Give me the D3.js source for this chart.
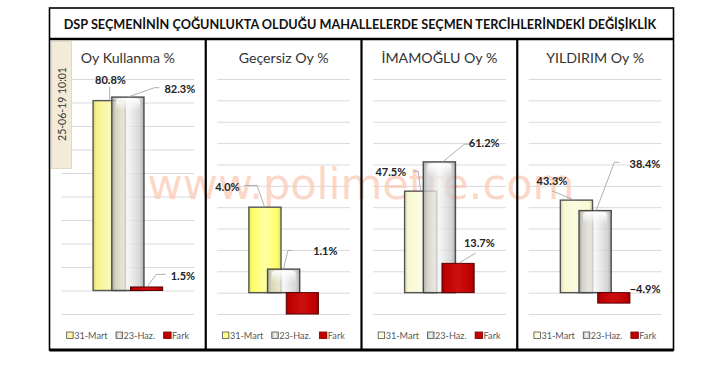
<!DOCTYPE html>
<html><head><meta charset="utf-8">
<script src="https://cdn.jsdelivr.net/npm/d3@7"></script>
<style>html,body{margin:0;padding:0;background:#fff;} svg{display:block}</style>
</head><body><svg id="c" width="709" height="365"></svg>
<script>
// ---------- DATA ----------
const chartTitle = "DSP SEÇMENİNİN ÇOĞUNLUKTA OLDUĞU MAHALLELERDE SEÇMEN TERCİHLERİNDEKİ DEĞİŞİKLİK";
const stampText = "25-06-19 10:01";
const watermarkText = "www.polimetre.com";
const categories = ["31-Mart", "23-Haz.", "Fark"];
const panelTitles = ["Oy Kullanma %", "Geçersiz Oy %", "İMAMOĞLU Oy %", "YILDIRIM Oy %"];
const oyKullanma = [80.8, 82.3, 1.5];
const gecersizOy = [4.0, 1.1, -2.9];
const imamogluOy = [47.5, 61.2, 13.7];
const yildirimOy = [43.3, 38.4, -4.9];
const axisMin = [-10, -1, -10, -10];
const axisMax = [90, 10, 100, 100];
const axisStep = [10, 1, 10, 10];
const labelShown = [[true, true, true], [true, true, false], [true, true, true], [true, true, true]];

// ---------- LAYOUT / STYLE ----------
const seriesValues = [oyKullanma, gecersizOy, imamogluOy, yildirimOy];
const frame = {x0: 50, x1: 673, y0: 8, y1: 350, titleBottom: 39};
const panelW = (frame.x1 - frame.x0) / 4;
const yRange = [314, 79];
const yellowBase = ["#f8f48c", "#ffff66", "#f9f8d0", "#f9f8d0"];
// label offsets relative to bar anchor (bar centre, bar top): [dx, dy], leader points
const labelLayout = [
  [{l:[1.3,-21], lead:[[0.5,0],[0.5,-14]]},
   {l:[52,-7.7], lead:[[0,0],[26.5,-9.4],[31.5,-9.4]]},
   {l:[36.3,-11.3], lead:[[1,-0.6],[9.7,-12.6],[19,-12.6]]}],
  [{l:[-37.5,-20], lead:[[-0.5,-0.7],[-7.9,-21.7],[-20.5,-21.7]]},
   {l:[41.7,-18], lead:[[0,-0.7],[4.3,-18.7],[8.3,-18.7]]},
   null],
  [{l:[-29.9,-19], lead:[[0,0],[-2.4,-20],[-7.7,-20]]},
   {l:[44.8,-18.7], lead:[[3.3,0],[25,-17.7],[31.7,-17.7]]},
   {l:[21.3,-20.2], lead:[[0.8,-0.2],[17.5,-10.2]]}],
  [{l:[-24.5,-19.3], lead:[[-1.7,0],[-24.4,-9.3]]},
   {l:[49.8,-46.7], lead:[[1,0],[19.3,-48.3],[24.3,-48.3]]},
   {l:[31.3,-3.3], lead:null}]
];

const svg = d3.select("#c");
const defs = svg.append("defs");

function hGrad(id, edge, mid, light) {
  const g = defs.append("linearGradient").attr("id", id).attr("x1", 0).attr("x2", 1).attr("y1", 0).attr("y2", 0);
  [[0, edge], [0.12, mid], [0.5, light], [0.88, mid], [1, edge]].forEach(([o, c]) =>
    g.append("stop").attr("offset", o).attr("stop-color", c));
}
yellowBase.forEach((c, i) => {
  const base = d3.color(c);
  hGrad("yel" + i, base.darker(0.35).formatHex(), c, d3.interpolateRgb(c, "#ffffff")(0.4));
});
hGrad("gray", "#979797", "#cacaca", "#f4f4f4");
hGrad("red", "#9a0000", "#c00000", "#cc1010");
const hl = defs.append("linearGradient").attr("id", "hl").attr("x1", 0).attr("x2", 0).attr("y1", 0).attr("y2", 1);
hl.append("stop").attr("offset", 0).attr("stop-color", "#fff").attr("stop-opacity", 0.95);
hl.append("stop").attr("offset", 1).attr("stop-color", "#fff").attr("stop-opacity", 0);

const font = "Lato, 'Open Sans', sans-serif";

// background
svg.append("rect").attr("width", 709).attr("height", 365).attr("fill", "#fff");

const panels = svg.append("g");
const wmLayer = svg.append("g");
const barLayer = svg.append("g");

seriesValues.forEach((vals, i) => {
  const px0 = frame.x0 + i * panelW;
  const plotL = px0 + 11.5, plotR = px0 + panelW - 11.5;
  const cx = (plotL + plotR) / 2;
  const y = d3.scaleLinear().domain([axisMin[i], axisMax[i]]).range(yRange).clamp(true);
  const x = d3.scaleBand().domain(categories).range([plotL, plotR]).paddingInner(0).paddingOuter(2.05);
  const bw = x.bandwidth() * 1.72;
  const g = panels.append("g");

  // gridlines via axis
  const ticks = d3.range(axisMin[i], axisMax[i] + axisStep[i] / 2, axisStep[i]);
  const ax = g.append("g").attr("transform", `translate(${plotL},0)`)
    .call(d3.axisLeft(y).tickValues(ticks).tickSize(-(plotR - plotL)).tickFormat(""));
  ax.select(".domain").remove();
  ax.selectAll("line").attr("stroke", "#d9d9d9").attr("stroke-width", 1);

  // panel title
  g.append("text").attr("x", cx).attr("y", 62.5).attr("text-anchor", "middle")
    .attr("font-family", font).attr("font-size", 14.2).attr("fill", "#333")
    .text(panelTitles[i]);

  // bars
  const bg = barLayer.append("g");
  const fills = ["url(#yel" + i + ")", "url(#gray)", "url(#red)"];
  const strokes = ["#555", "#4a4a4a", "#5a0000"];
  vals.forEach((v, j) => {
    const c = categories[j];
    const bx = x(c) + x.bandwidth() / 2 - bw / 2;
    const y0 = y(0), y1 = y(v);
    const top = Math.min(y0, y1), h = Math.abs(y1 - y0);
    bg.append("rect").attr("x", bx).attr("y", top).attr("width", bw).attr("height", h)
      .attr("fill", fills[j]).attr("fill-opacity", j === 1 ? 0.78 : 1)
      .attr("stroke", strokes[j]).attr("stroke-width", j === 2 ? 1 : 1.4);
    if (j === 1 && h > 8) {
      bg.append("rect").attr("x", bx + 4).attr("y", top + 1.5).attr("width", bw - 8)
        .attr("height", Math.min(12, h - 3)).attr("rx", 4).attr("fill", "url(#hl)");
    }
    const lay = labelLayout[i][j];
    if (labelShown[i][j] && lay) {
      const ancX = x(c) + x.bandwidth() / 2, ancY = y(Math.max(v, 0));
      if (lay.lead) {
        bg.append("path").attr("d", d3.line()(lay.lead.map(p => [ancX + p[0], ancY + p[1]])))
          .attr("fill", "none").attr("stroke", "#a6a6a6").attr("stroke-width", 0.9);
      }
      bg.append("text").attr("x", ancX + lay.l[0]).attr("y", ancY + lay.l[1]).attr("dy", "0.36em")
        .attr("text-anchor", "middle").attr("font-family", font).attr("font-weight", "bold")
        .attr("font-size", 11).attr("fill", "#222")
        .text(d3.format(".1f")(v) + "%");
    }
  });

  // legend
  const lg = g.append("g");
  const legendFills = [fills[0], "url(#gray)", "#c00000"];
  const legendStrokes = ["#555", "#555", "#7a0000"];
  const texts = [];
  const its = [];
  categories.forEach((c, j) => {
    const it = lg.append("g");
    it.append("rect").attr("x", 0).attr("y", -3.5).attr("width", j === 2 ? 7.5 : 6.5).attr("height", 6.5)
      .attr("fill", legendFills[j]).attr("stroke", legendStrokes[j]).attr("stroke-width", 0.8);
    const t = it.append("text").attr("x", j === 2 ? 8.5 : 7.5).attr("y", 0).attr("dy", "0.35em")
      .attr("font-family", font).attr("font-size", 9.5).attr("fill", "#595959").text(c);
    texts.push(t); its.push(it);
  });
  const sum = d3.sum(texts, t => t.node().getComputedTextLength());
  const fs = 9.5 * 82 / sum;
  texts.forEach(t => t.attr("font-size", fs));
  let lx = 0;
  its.forEach((it, j) => {
    it.attr("transform", `translate(${lx},0)`);
    lx += (j === 2 ? 8.5 : 7.5) + texts[j].node().getComputedTextLength() + 8.5;
  });
  const totalW = lx - 8.5;
  lg.attr("transform", `translate(${cx - totalW / 2},335.5)`);
});

// watermark
const wm = wmLayer.append("text").attr("x", 361).attr("y", 198.5).attr("text-anchor", "middle")
  .attr("font-family", "'DejaVu Sans', sans-serif").attr("font-size", 42)
  .attr("fill", "#fbc9b3").attr("fill-opacity", 0.75).text(watermarkText);
const wmw = wm.node().getComputedTextLength();
wm.attr("font-size", 42 * 427 / wmw);

// date stamp box
const stamp = svg.append("g");
stamp.append("rect").attr("x", 51.5).attr("y", 41.5).attr("width", 20).attr("height", 127)
  .attr("fill", "#f4ead8").attr("stroke", "#e0d2b6").attr("stroke-width", 0.8);
const st = stamp.append("text").attr("transform", "translate(66,104) rotate(-90)").attr("text-anchor", "middle")
  .attr("font-family", font).attr("font-size", 12).attr("fill", "#333").text(stampText);
st.attr("font-size", 12 * 74 / st.node().getComputedTextLength());

// frame
const fr = svg.append("g").attr("fill", "none").attr("stroke", "#000");
fr.append("rect").attr("x", frame.x0 - 0.5).attr("y", frame.y0).attr("width", frame.x1 - frame.x0 + 1)
  .attr("height", frame.y1 - frame.y0).attr("stroke-width", 1.6);
fr.append("line").attr("x1", frame.x0 - 0.5).attr("x2", frame.x1 + 0.5).attr("y1", frame.titleBottom).attr("y2", frame.titleBottom).attr("stroke-width", 2.4);
fr.append("line").attr("x1", frame.x0 - 0.5).attr("x2", frame.x1 + 0.5).attr("y1", frame.y1).attr("y2", frame.y1).attr("stroke-width", 2.8);
[1, 2, 3].forEach(k => {
  const xx = frame.x0 + k * panelW;
  fr.append("line").attr("x1", xx).attr("x2", xx).attr("y1", frame.titleBottom).attr("y2", frame.y1).attr("stroke-width", 2.2);
});

// title
const tt = svg.append("text").attr("x", 360).attr("y", 29.3).attr("text-anchor", "middle")
  .attr("font-family", font).attr("font-weight", "bold").attr("font-size", 13).attr("fill", "#111")
  .text(chartTitle);
const tw = tt.node().getComputedTextLength();
tt.attr("font-size", 13 * 593 / tw);
</script></body></html>
